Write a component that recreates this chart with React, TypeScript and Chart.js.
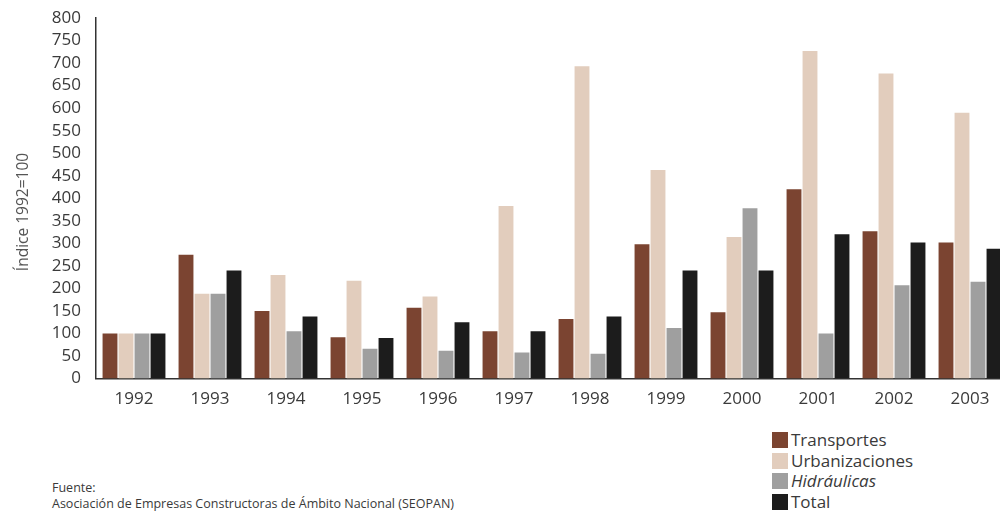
import React, { useEffect, useRef } from "react";
import { Chart, registerables } from "chart.js";

Chart.register(...registerables);

const years = ["1992", "1993", "1994", "1995", "1996", "1997", "1998", "1999", "2000", "2001", "2002", "2003"];
const transportes = [100, 275, 150, 92, 157, 105, 132, 298, 147, 420, 327, 302];
const urbanizaciones = [100, 188, 230, 217, 182, 383, 693, 463, 314, 727, 677, 590];
const hidraulicas = [100, 188, 105, 66, 62, 58, 55, 112, 378, 100, 207, 215];
const total = [100, 240, 138, 90, 125, 105, 138, 240, 240, 320, 302, 288];

const seriesNames = ["Transportes", "Urbanizaciones", "Hidráulicas", "Total"];
const seriesColors = ["#7b4431", "#e2cdbd", "#9f9f9f", "#1c1c1c"];
const yTitle = "Índice 1992=100";
const sourceLabel = "Fuente:";
const sourceText = "Asociación de Empresas Constructoras de Ámbito Nacional (SEOPAN)";

const FONT = "'Open Sans', 'DejaVu Sans', sans-serif";
const TEXT = "#3a3a3a";

export default function App() {
  const ref = useRef<HTMLCanvasElement>(null);

  useEffect(() => {
    document.body.style.margin = "0";
    document.body.style.overflow = "hidden";
    const titlePlugin = {
      id: "ytitle",
      afterDraw(chart: any) {
        const ctx = chart.ctx;
        ctx.save();
        ctx.translate(24, 212);
        ctx.rotate(-Math.PI / 2);
        ctx.font = `15.5px ${FONT}`;
        ctx.fillStyle = "#555";
        ctx.textAlign = "center";
        ctx.textBaseline = "middle";
        ctx.fillText(yTitle, 0, 0);
        ctx.restore();
      },
    };
    const data = [transportes, urbanizaciones, hidraulicas, total];
    const chart = new Chart(ref.current!, {
      type: "bar",
      data: {
        labels: years,
        datasets: data.map((d, i) => ({
          label: seriesNames[i],
          data: d,
          backgroundColor: seriesColors[i],
          borderWidth: 0,
          categoryPercentage: 0.842,
          barPercentage: 0.93,
        })),
      },
      options: {
        responsive: false,
        animation: false,
        devicePixelRatio: 1,
        layout: { padding: { top: 18, right: 0, bottom: 0, left: 0 } },
        plugins: { legend: { display: false }, tooltip: { enabled: false } },
        scales: {
          x: {
            grid: { display: false, drawTicks: false },
            border: { color: "#333", width: 1.5 },
            ticks: { padding: 10, color: TEXT, font: { family: FONT, size: 17 } },
          },
          y: {
            min: 0,
            max: 800,
            grid: { display: false, drawTicks: false },
            border: { color: "#333", width: 1.5 },
            ticks: { stepSize: 50, autoSkip: false, padding: 15, color: TEXT, font: { family: FONT, size: 17 } },
            afterFit: (s: any) => {
              s.width = 96;
              s.paddingTop = 0;
              s.paddingBottom = 0;
            },
          },
        },
      },
      plugins: [titlePlugin],
    });
    return () => chart.destroy();
  }, []);

  return (
    <div style={{ position: "relative", width: 1010, height: 515, overflow: "hidden", fontFamily: FONT, color: TEXT }}>
      <canvas ref={ref} width={1008} height={419} style={{ position: "absolute", left: 0, top: 0 }} />
      <div style={{ position: "absolute", left: 772, top: 430 }}>
        {seriesNames.map((n, i) => (
          <div key={n} style={{ display: "flex", alignItems: "center", height: 20.5 }}>
            <span style={{ width: 16, height: 16, background: seriesColors[i], marginRight: 3, display: "inline-block" }} />
            <span style={{ fontSize: 17, fontStyle: i === 2 ? "italic" : "normal", lineHeight: "20px" }}>{n}</span>
          </div>
        ))}
      </div>
      <div style={{ position: "absolute", left: 52, top: 480, fontSize: 12.5, lineHeight: "16px" }}>
        <div>{sourceLabel}</div>
        <div>{sourceText}</div>
      </div>
    </div>
  );
}
